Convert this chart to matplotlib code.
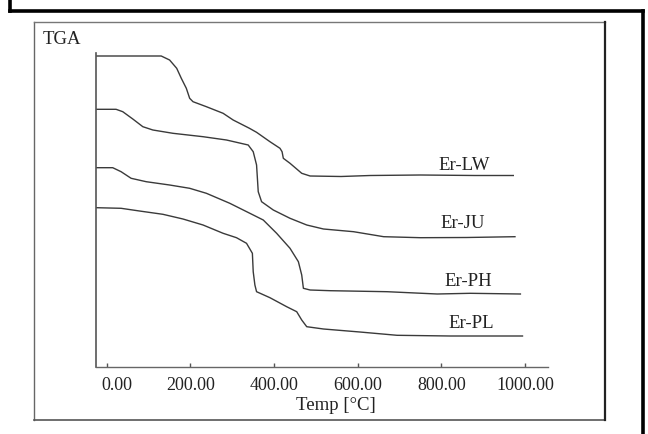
import matplotlib
matplotlib.use("Agg")
import matplotlib.pyplot as plt
from matplotlib.lines import Line2D
from matplotlib.transforms import ScaledTranslation

plt.rcParams['font.family'] = ['Liberation Serif', 'DejaVu Serif']

# ---- data (temperature in °C, TGA signal in arbitrary offset units) ----
series_names = ["Er-LW", "Er-JU", "Er-PH", "Er-PL"]

temp_lw = [-25, 130, 150, 167, 178, 190, 198, 206, 238, 278, 302, 341, 358, 390,
           414, 419, 422, 438, 466, 486, 560, 630, 750, 880, 972]
tga_lw = [311, 311, 307, 298.7, 288.7, 278.7, 268.7, 265.3, 260.3, 253.7, 247,
          238.7, 234.7, 225.3, 218.7, 215.3, 208.7, 203.7, 193.7, 191, 190.5,
          191.5, 192, 191.5, 191.5]

temp_ju = [-25, 22, 38, 62, 86, 110, 158, 230, 286, 310, 338, 350, 358, 360, 362,
           370, 398, 438, 478, 518, 590, 662, 750, 860, 976]
tga_ju = [257.7, 257.7, 255.3, 248, 240.3, 237, 233.7, 230.3, 227, 224.7, 222,
          215.3, 202, 188.7, 175.3, 165.3, 157, 148.7, 142, 138, 135.3, 130.3,
          129.3, 129.5, 130.3]

temp_ph = [-25, 14, 34, 58, 94, 150, 198, 238, 294, 342, 374, 406, 438, 458, 466,
           470, 486, 534, 670, 790, 869, 989]
tga_ph = [199.3, 199.3, 195.3, 188.7, 185.3, 182, 178.7, 173.7, 163.7, 153.7, 147,
          133.7, 118.7, 105.3, 92, 78.7, 77, 76.3, 75.3, 73, 73.7, 73]

temp_pl = [-25, 34, 78, 134, 182, 230, 278, 310, 334, 348, 350, 354, 358, 390, 430,
           454, 466, 478, 518, 605, 694, 821, 994]
tga_pl = [159.3, 158.7, 156, 152.7, 148, 142, 133.7, 129.3, 123.7, 113.7, 95.3, 82,
          75.3, 69.3, 60.3, 55.3, 47, 40.3, 38, 35, 31.7, 31, 31]

x_ticks = [0, 200, 400, 600, 800, 1000]
x_tick_labels = ["0.00", "200.00", "400.00", "600.00", "800.00", "1000.00"]

# label anchor positions (data coords)
label_temp = [854, 852, 864, 871]
label_tga = [201.5, 143.5, 86, 43.5]

# ---- figure ----
W, H, DPI = 648, 434, 100
fig = plt.figure(figsize=(W / DPI, H / DPI), dpi=DPI)
fig.patch.set_facecolor("white")

def fx(px):
    return px / W

def fy(py):
    return 1 - py / H

# outer black frame (left, top, right)
for xs, ys in [([10, 10], [0, 11]), ([10, 643], [11, 11]), ([643, 643], [11, 434])]:
    fig.add_artist(Line2D([fx(v) for v in xs], [fy(v) for v in ys],
                          transform=fig.transFigure, color="black", lw=2.6))
# inner gray frame
for xs, ys, c, lw in [([34, 34], [22, 420], "#666666", 1.0),
                      ([34, 605], [22, 22], "#777777", 1.0),
                      ([34, 605], [420, 420], "#555555", 1.2),
                      ([605, 605], [22, 420], "#222222", 1.6)]:
    fig.add_artist(Line2D([fx(v) for v in xs], [fy(v) for v in ys],
                          transform=fig.transFigure, color=c, lw=lw))

ax = fig.add_axes([fx(96), fy(367), fx(548) - fx(96), fy(53) - fy(367)])
ax.set_xlim(-26, 1055)
ax.set_ylim(0, 314)

line_color = "#3a3a3a"
for t, w in [(temp_lw, tga_lw), (temp_ju, tga_ju), (temp_ph, tga_ph), (temp_pl, tga_pl)]:
    ax.plot(t, w, color=line_color, lw=1.0)

for name, lt, lv in zip(series_names, label_temp, label_tga):
    ax.text(lt, lv, name, ha="center", va="center", fontsize=13.5, color="#222222")

for s in ["top", "right"]:
    ax.spines[s].set_visible(False)
ax.spines["left"].set_color("#555555")
ax.spines["bottom"].set_color("#666666")
ax.spines["left"].set_linewidth(1.2)
ax.spines["bottom"].set_linewidth(1.0)
ax.set_yticks([])
ax.set_xticks(x_ticks)
ax.set_xticklabels(x_tick_labels)
ax.tick_params(axis="x", direction="in", length=3, width=1, color="#555555",
               labelsize=13, labelcolor="#222222", pad=7.5)
ax.patch.set_alpha(0)

ax.set_xlabel("Temp [°C]", fontsize=13.5, color="#222222")
ax.xaxis.label.set_va("center")
ax.xaxis.set_label_coords((335.5 - 96) / (548 - 96), (367 - 406) / (367 - 53))

fig.text(fx(43), fy(39.5), "TGA", ha="left", va="center", fontsize=13.5, color="#222222")

fig.canvas.draw()
first = ax.xaxis.get_major_ticks()[0].label1
first.set_transform(first.get_transform() + ScaledTranslation(10 / DPI, 0, fig.dpi_scale_trans))

fig.savefig("out.png", dpi=DPI)
